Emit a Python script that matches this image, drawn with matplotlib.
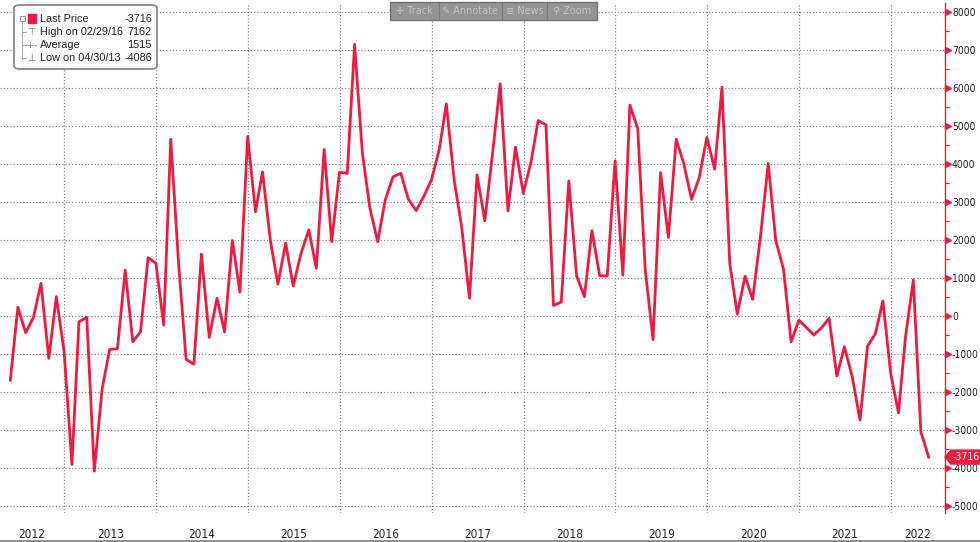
import matplotlib
matplotlib.use("Agg")
import matplotlib.pyplot as plt
import matplotlib.dates as mdates
import matplotlib.transforms as mtransforms
from matplotlib.patches import FancyBboxPatch, Polygon, Rectangle
from matplotlib.lines import Line2D
from matplotlib.ticker import MultipleLocator, FixedLocator
import numpy as np
import pandas as pd

plt.rcParams["axes.unicode_minus"] = False

W, H = 980, 542

# month-end readings, May 2012 .. May 2022
months = pd.date_range("2012-05-31", periods=121, freq="ME")
values = [
    -1690, 230, -440, -35, 860, -1115, 510, -940,
    -3910, -150, -35, -4086, -1930, -880, -860, 1210, -680, -410, 1540, 1390,
    -240, 4660, 1400, -1140, -1270, 1630, -560, 470, -420, 1990, 630, 4730,
    2750, 3800, 2000, 840, 1920, 790, 1650, 2270, 1260, 4390, 1960, 3790,
    3760, 7162, 4300, 2840, 1960, 3060, 3670, 3760, 3080, 2780, 3150, 3590,
    4400, 5590, 3590, 2350, 470, 3720, 2510, 4300, 6120, 2770, 4450, 3230,
    4070, 5150, 5040, 280, 370, 3560, 1060, 510, 2250, 1060, 1060, 4090,
    1080, 5560, 4940, 1210, -620, 3780, 2070, 4660, 4020, 3080, 3630, 4710,
    3870, 6030, 1390, 50, 1050, 440, 2090, 4020, 1990, 1230, -680, -110,
    -310, -500, -310, -60, -1580, -810, -1600, -2740, -790, -470, 400, -1510,
    -2550, -545, 950, -3050, -3716,
]
years = list(range(2012, 2023))
y_ticks = list(range(-5000, 8001, 1000))
toolbar_items = ["\u271b Track", "\u270e Annotate", "\u2263 News", "\u26b2 Zoom"]

RED = "#f0193f"
FONT = ["DejaVu Sans", "Liberation Sans"]


def fx(px):
    return px / W


def fy(py):
    return 1 - py / H


fig = plt.figure(figsize=(W / 100, H / 100), dpi=100)
fig.patch.set_facecolor("white")

ax = fig.add_axes([0, fy(513), fx(945), (513 - 3) / H])
ax.plot(months, values, color=RED, lw=2.0, zorder=3)

x0, x1 = pd.Timestamp("2012-04-20"), pd.Timestamp("2022-08-04")
ax.set_xlim(x0, x1)
ax.set_ylim(-5190, 8250)

# grid
ax.xaxis.set_major_locator(mdates.YearLocator())
ax.yaxis.set_major_locator(FixedLocator(y_ticks))
ax.yaxis.set_minor_locator(MultipleLocator(500))
ax.grid(True, which="major", color="#8f8f8f", lw=0.9, ls=(0, (1, 1.6)))
ax.tick_params(axis="x", length=0, labelbottom=False)

for s in ["left", "top", "bottom"]:
    ax.spines[s].set_visible(False)
ax.spines["right"].set_color(RED)
ax.spines["right"].set_linewidth(1.0)

ax.yaxis.tick_right()
ax.tick_params(axis="y", which="major", length=0, pad=5, labelsize=7.4,
               labelcolor="#222222")
ax.tick_params(axis="y", which="minor", length=3, width=0.9, color=RED,
               direction="out")
for lab in ax.get_yticklabels():
    lab.set_family(FONT)
    lab.set_fontstretch("condensed")

blend = mtransforms.blended_transform_factory(ax.transAxes, ax.transData)
ax.plot([1 + 3 / 945] * len(y_ticks), y_ticks, transform=blend, ls="none",
        marker=">", ms=4.5, color=RED, clip_on=False, zorder=4)

# year labels, centred on the visible part of each year
blend_x = mtransforms.blended_transform_factory(ax.transData, ax.transAxes)
for yr in years:
    a = max(pd.Timestamp(f"{yr}-01-01"), x0)
    b = min(pd.Timestamp(f"{yr + 1}-01-01"), x1)
    mid = a + (b - a) / 2
    ax.text(mid, -22 / 510, str(yr), transform=blend_x, ha="center",
            va="center", fontsize=8.5, color="#222222", family=FONT,
            fontstretch="condensed")

# last price tag
px, py = ax.transData.transform((mdates.date2num(x1), values[-1]))
tag = Polygon([(px, py), (px + 6, py + 7), (px + 36, py + 7),
               (px + 36, py - 7), (px + 6, py - 7)], closed=True,
              transform=mtransforms.IdentityTransform(), fc=RED, ec=RED,
              zorder=10)
fig.add_artist(tag)
fig.text((px + 21) / W, py / H, str(values[-1]), color="white",
         fontsize=7.6, ha="center", va="center", family=FONT,
         fontstretch="condensed", zorder=11)

# legend box
arr = np.array(values)
hi_i, lo_i = int(arr.argmax()), int(arr.argmin())
rows = [
    ("Last Price", f"{values[-1]}"),
    (f"High on {months[hi_i]:%m/%d/%y}", f"{values[hi_i]}"),
    ("Average", f"{round(arr.mean())}"),
    (f"Low on {months[lo_i]:%m/%d/%y}", f"{values[lo_i]}"),
]
row_y = [19, 32, 45, 58]
box = FancyBboxPatch((fx(14), fy(69)), fx(143), (69 - 5) / H,
                     boxstyle="round,pad=0,rounding_size=0.006",
                     transform=fig.transFigure, fc="white", ec="#8a8a8a",
                     lw=1.3, zorder=20)
fig.add_artist(box)
for (label, val), ry in zip(rows, row_y):
    fig.text(fx(40), fy(ry), label, fontsize=7.8, color="#222222",
             va="center", ha="left", family=["Liberation Sans", "DejaVu Sans"],
             zorder=21)
    fig.text(fx(152), fy(ry), val, fontsize=7.8, color="#222222",
             va="center", ha="right", family=["Liberation Sans", "DejaVu Sans"],
             zorder=21)
fig.add_artist(Rectangle((fx(28), fy(23)), fx(8), 9 / H, transform=fig.transFigure,
                         fc=RED, ec=RED, zorder=21))
# tree lines
fig.add_artist(Rectangle((fx(19.5), fy(21)), fx(5), 5 / H, transform=fig.transFigure,
                         fc="none", ec="#999999", lw=0.7, zorder=21))
fig.add_artist(Line2D([fx(22), fx(22)], [fy(21), fy(59)], color="#aaaaaa",
                      lw=0.7, zorder=21))
for ry in row_y[1:]:
    fig.add_artist(Line2D([fx(22), fx(26)], [fy(ry), fy(ry)], color="#aaaaaa",
                          lw=0.7, zorder=21))
fig.text(fx(31), fy(32), "\u22a4", fontsize=7, color="#777777", ha="center",
         va="center", zorder=21)
fig.text(fx(31), fy(45), "-+-", fontsize=6, color="#777777", ha="center",
         va="center", zorder=21)
fig.text(fx(31), fy(58), "\u22a5", fontsize=7, color="#777777", ha="center",
         va="center", zorder=21)

# toolbar
fig.add_artist(Rectangle((fx(390), fy(20)), fx(207), 18 / H,
                         transform=fig.transFigure, fc="#8e8e8e", ec="#6e6e6e",
                         lw=1, alpha=0.95, zorder=20))
item_x = [414, 470, 525, 572]
for t, xx in zip(toolbar_items, item_x):
    fig.text(fx(xx), fy(11), t, fontsize=7, color="#c4c4c4", ha="center",
             va="center", family=["DejaVu Sans"], zorder=21)
for xx in [439, 502, 547]:
    fig.add_artist(Line2D([fx(xx), fx(xx)], [fy(3), fy(19)], color="#777777",
                          lw=0.8, zorder=21))

# bottom border
fig.add_artist(Line2D([0, 1], [fy(541), fy(541)], color="#8a8a8a", lw=2))

fig.savefig("out.png", dpi=100, facecolor="white")
